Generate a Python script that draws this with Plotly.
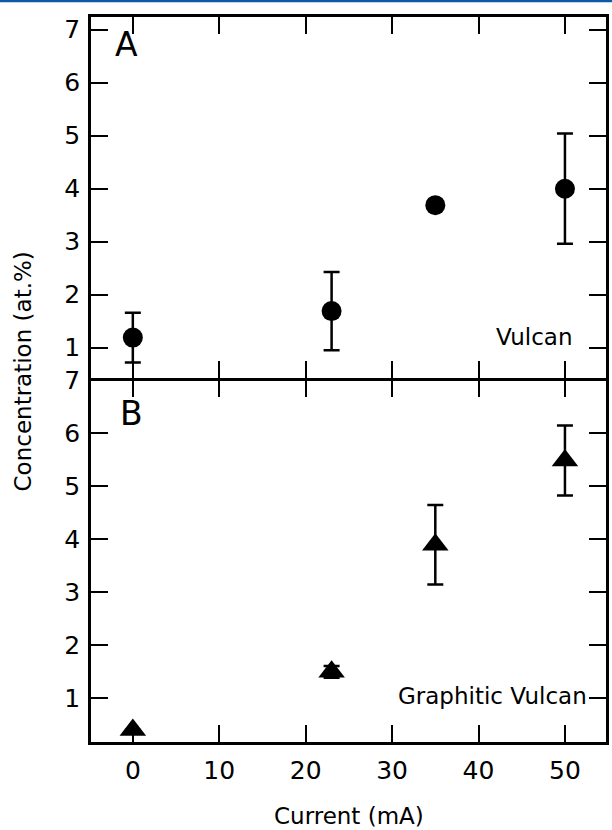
import plotly.graph_objects as go

# ---- data ----
current_ma = [0, 23, 35, 50]

vulcan_conc = [1.19, 1.69, 3.69, 4.00]
vulcan_err = [0.47, 0.74, None, 1.04]

graphitic_conc = [0.40, 1.50, 3.90, 5.49]
graphitic_err = [None, 0.11, 0.75, 0.66]

x_ticks = [0, 10, 20, 30, 40, 50]
y_ticks = [1, 2, 3, 4, 5, 6, 7]

FONT = "DejaVu Sans"
BLACK = "#000000"

fig = go.Figure()

fig.add_trace(go.Scatter(
    x=current_ma, y=vulcan_conc, mode="markers",
    marker=dict(symbol="circle", size=20, color=BLACK),
    error_y=dict(type="data", array=vulcan_err, visible=True,
                 color=BLACK, thickness=2.5, width=8),
    xaxis="x2", yaxis="y2", showlegend=False,
))

fig.add_trace(go.Scatter(
    x=current_ma, y=graphitic_conc, mode="markers",
    marker=dict(symbol="triangle-up", size=23, color=BLACK),
    error_y=dict(type="data", array=graphitic_err, visible=True,
                 color=BLACK, thickness=2.5, width=8),
    xaxis="x", yaxis="y", showlegend=False,
))

axis_common = dict(
    showline=True, linecolor=BLACK, linewidth=2.5, mirror="ticks",
    ticks="inside", ticklen=17, tickwidth=2.2, tickcolor=BLACK,
    showgrid=False, zeroline=False,
    tickfont=dict(family=FONT, size=25, color=BLACK),
)

fig.update_layout(
    width=612, height=830,
    margin=dict(l=91, r=3, t=17, b=88),
    paper_bgcolor="white", plot_bgcolor="white",
    font=dict(family=FONT, size=23, color=BLACK),
    xaxis=dict(axis_common, range=[-4.84, 54.75], tickvals=x_ticks,
               anchor="y", domain=[0, 1], ticklabelstandoff=4),
    xaxis2=dict(axis_common, range=[-4.84, 54.75], tickvals=x_ticks,
                anchor="y2", domain=[0, 1], matches="x",
                showticklabels=False),
    yaxis=dict(axis_common, range=[0.175, 7.0005], tickvals=y_ticks,
               domain=[0, 0.49862], anchor="x", ticklabelstandoff=3),
    yaxis2=dict(axis_common, range=[0.428, 7.24], tickvals=y_ticks,
                domain=[0.50207, 1], anchor="x2", ticklabelstandoff=3),
    annotations=[
        dict(text="A", x=0.0, y=6.72, xref="x2", yref="y2",
             xanchor="center", yanchor="middle", showarrow=False,
             font=dict(family=FONT, size=33, color=BLACK), xshift=-6),
        dict(text="B", x=0.0, y=6.38, xref="x", yref="y",
             xanchor="center", yanchor="middle", showarrow=False,
             font=dict(family=FONT, size=33, color=BLACK), xshift=-1),
        dict(text="Vulcan", x=51.06, y=1.2, xref="x2", yref="y2",
             xanchor="right", yanchor="middle", showarrow=False,
             font=dict(family=FONT, size=23, color=BLACK)),
        dict(text="Graphitic Vulcan", x=52.8, y=1.05, xref="x", yref="y",
             xanchor="right", yanchor="middle", showarrow=False,
             font=dict(family=FONT, size=23, color=BLACK)),
        dict(text="Concentration (at.%)", x=-0.1322, y=0.511,
             xref="paper", yref="paper", textangle=-90,
             xanchor="center", yanchor="middle", showarrow=False,
             font=dict(family=FONT, size=23, color=BLACK)),
        dict(text="Current (mA)", x=0.5, y=-0.102,
             xref="paper", yref="paper",
             xanchor="center", yanchor="middle", showarrow=False,
             font=dict(family=FONT, size=23, color=BLACK)),
    ],
    shapes=[
        dict(type="line", xref="paper", yref="paper",
             x0=-0.2, x1=1.1, y0=1.0221, y1=1.0221,
             line=dict(color="#0f5aa6", width=2.5)),
    ],
)

fig.write_html("out.html",
               config={"displayModeBar": False},
               post_script="document.body.style.margin='0';")
